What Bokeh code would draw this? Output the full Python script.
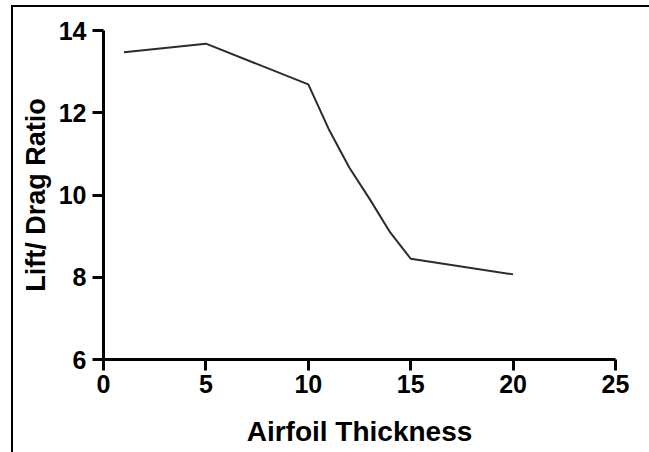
from bokeh.plotting import figure
from bokeh.embed import file_html
from bokeh.resources import INLINE
from bokeh.models import Range1d, FixedTicker

thickness = [1, 5, 10, 11, 12, 13, 14, 15, 20]
lift_drag = [13.47, 13.68, 12.69, 11.6, 10.67, 9.9, 9.09, 8.45, 8.07]
x_ticks = [0, 5, 10, 15, 20, 25]
y_ticks = [6, 8, 10, 12, 14]

p = figure(width=649, height=452, output_backend="svg", toolbar_location=None,
           x_range=Range1d(0, 25), y_range=Range1d(6, 14),
           min_border_left=103, min_border_right=34, min_border_top=30, min_border_bottom=93)
p.border_fill_color = None
p.styles = {"background": "linear-gradient(#000,#000) 11px 5px / 2px calc(100% - 5px) no-repeat, "
                          "linear-gradient(#000,#000) 11px 5px / calc(100% - 11px) 2px no-repeat, white"}

p.line(thickness, lift_drag, line_color="#2b2b2b", line_width=2)

p.grid.visible = False
p.outline_line_color = None

for ax in (p.xaxis[0], p.yaxis[0]):
    ax.axis_line_width = 3
    ax.axis_line_color = "black"
    ax.major_tick_line_width = 3
    ax.major_tick_line_color = "black"
    ax.major_tick_out = 11
    ax.major_tick_in = 0
    ax.minor_tick_line_color = None
    ax.major_label_text_font = "Liberation Sans"
    ax.major_label_text_font_style = "bold"
    ax.major_label_text_font_size = "25px"
    ax.major_label_text_color = "black"
    ax.axis_label_text_font = "Liberation Sans"
    ax.axis_label_text_font_style = "bold"
    ax.axis_label_text_color = "black"

p.xaxis[0].axis_label_text_font_size = "28px"
p.yaxis[0].axis_label_text_font_size = "27px"
p.xaxis[0].ticker = FixedTicker(ticks=x_ticks)
p.yaxis[0].ticker = FixedTicker(ticks=y_ticks)
p.xaxis[0].axis_label = "Airfoil Thickness"
p.yaxis[0].axis_label = "Lift/ Drag Ratio"
p.xaxis[0].major_label_standoff = 4
p.yaxis[0].major_label_standoff = 6
p.xaxis[0].axis_label_standoff = 20
p.yaxis[0].axis_label_standoff = 5

open("out.html", "w").write(file_html(p, INLINE))
